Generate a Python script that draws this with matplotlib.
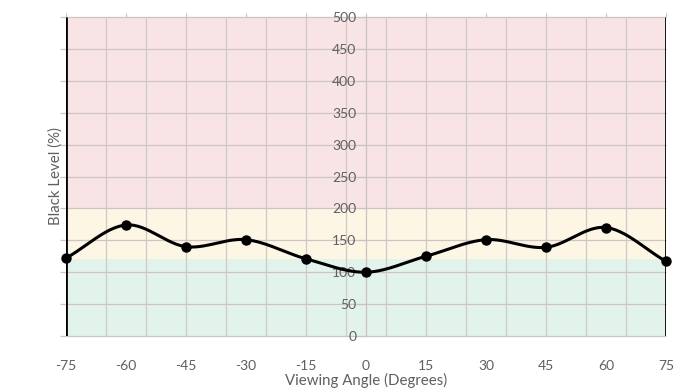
import numpy as np
import matplotlib
matplotlib.use("Agg")
import matplotlib.pyplot as plt

angles = [-75, -60, -45, -30, -15, 0, 15, 30, 45, 60, 75]
black_level = [122, 174, 140, 151, 121, 100, 125, 151, 139, 170, 117]
xticks = [-75, -60, -45, -30, -15, 0, 15, 30, 45, 60, 75]
yticks = [0, 50, 100, 150, 200, 250, 300, 350, 400, 450, 500]
xgrid = [-65, -55, -45, -35, -25, -15, -5, 5, 15, 25, 35, 45, 55, 65]
bands = [(0, 120, "#e2f3eb"), (120, 200, "#fdf6e4"), (200, 500, "#f8e4e5")]

TXT = "#5f5f5f"
plt.rcParams['font.family'] = ['Lato', 'DejaVu Sans']

def catmull_rom(x, y, n=30):
    x = np.asarray(x, float); y = np.asarray(y, float)
    px = np.concatenate([[2*x[0]-x[1]], x, [2*x[-1]-x[-2]]])
    py = np.concatenate([[2*y[0]-y[1]], y, [2*y[-1]-y[-2]]])
    xs, ys = [], []
    t = np.linspace(0, 1, n, endpoint=False)
    for i in range(1, len(px)-2):
        for p, out in ((px, xs), (py, ys)):
            p0, p1, p2, p3 = p[i-1], p[i], p[i+1], p[i+2]
            out.append(0.5*((2*p1) + (-p0+p2)*t + (2*p0-5*p1+4*p2-p3)*t**2 + (-p0+3*p1-3*p2+p3)*t**3))
    xs.append([x[-1]]); ys.append([y[-1]])
    return np.concatenate(xs), np.concatenate(ys)

fig = plt.figure(figsize=(6.92, 3.9), dpi=100)
ax = fig.add_axes([66/692, 1-336/390, 600/692, 319/390])
ax.set_xlim(-75, 75)
ax.set_ylim(0, 500)

for lo, hi, c in bands:
    ax.axhspan(lo, hi, color=c, zorder=0, lw=0)

# grid
ax.hlines(yticks, -76.5, 75, colors="#cdc5c5", lw=0.9, zorder=1, clip_on=False)
ax.vlines(xgrid, 0, 500, colors="#cfc9c9", lw=0.9, zorder=1)

# side black lines
ax.vlines([-75, 75], 0, 500, colors="black", lw=2, zorder=4)

sx, sy = catmull_rom(angles, black_level)
ax.plot(sx, sy, color="black", lw=2.2, zorder=5, clip_on=False)
ax.plot(angles, black_level, 'o', color="black", ms=6.5, zorder=6, clip_on=False)

for s in ['top', 'right', 'bottom']:
    ax.spines[s].set_visible(False)
ax.spines['left'].set_position(('data', 0))
ax.spines['left'].set_color("#c8c2c2")
ax.spines['left'].set_linewidth(0.9)
ax.spines['left'].set_zorder(1)

ax.set_yticks(yticks)
ax.set_yticklabels([str(v) for v in yticks])
ax.tick_params(axis='y', direction='out', length=6, pad=1, color="#c8c2c2",
               labelcolor=TXT, labelsize=10)
ax.set_xticks(xticks)
ax.set_xticklabels([str(v) for v in xticks])
ax.tick_params(axis='x', bottom=False, top=True, labelbottom=True, labeltop=False,
               direction='out', length=3, color="#c8c2c2", labelcolor=TXT,
               labelsize=10, pad=14)

ax.set_xlabel("Viewing Angle (Degrees)", color=TXT, fontsize=10.8, labelpad=1)
ax.set_ylabel("Black Level (%)", color=TXT, fontsize=10.8)
ax.yaxis.set_label_coords(-0.005, 0.5)

fig.savefig("out.png", dpi=100)
